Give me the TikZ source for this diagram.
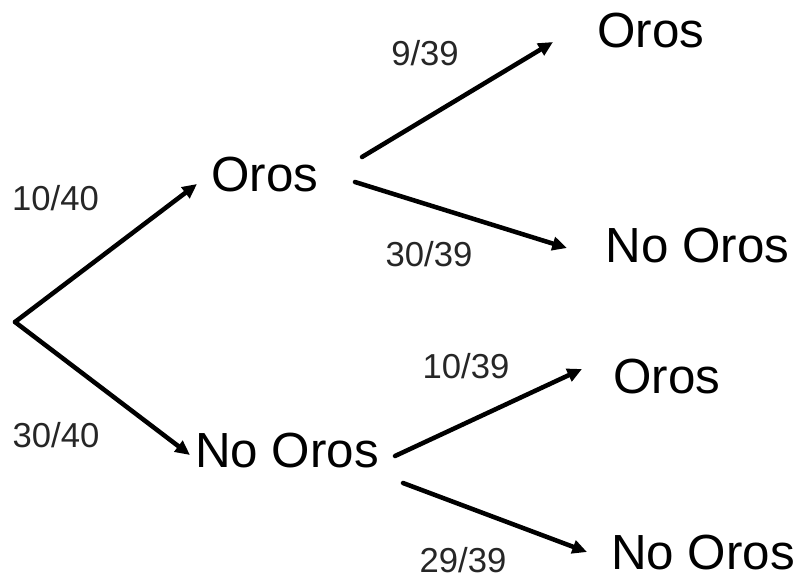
\documentclass[tikz,border=0pt]{standalone}
\usepackage{fontspec}
\setmainfont{Liberation Sans}
\usetikzlibrary{arrows.meta}
\begin{document}
\begin{tikzpicture}[x=0.75pt,y=-0.75pt,
  big/.style={anchor=base,inner sep=0pt,font=\fontsize{37pt}{39pt}\selectfont},
  prob/.style={anchor=base,inner sep=0pt,font=\fontsize{26pt}{28pt}\selectfont,text=black!85},
  branch/.style={line width=3.4pt,line cap=round,-{Triangle[length=11pt,width=10pt]}}]
\useasboundingbox (0,0) rectangle (795,579);
\coordinate (root) at (15,322);
\node[big] (om) at (265,191) {Oros};
\node[big] (nm) at (287,467) {No Oros};
\node[big] (o1) at (651,47) {Oros};
\node[big] (n1) at (697.5,262) {No Oros};
\node[big] (o2) at (667,393) {Oros};
\node[big] (n2) at (703,569) {No Oros};
\node[prob] (p1) at (55.5,210) {10/40};
\node[prob] (p2) at (56,447) {30/40};
\node[prob] (p3) at (425,65) {9/39};
\node[prob] (p4) at (429,266) {30/39};
\node[prob] (p5) at (466,378) {10/39};
\node[prob] (p6) at (463,572) {29/39};
\draw[branch] (root) -- ([shift={(-68,-7)}]om.base);
\draw[branch] (root) -- ([shift={(-97,-12)}]nm.base);
\draw[branch] ([shift={(97,-34)}]om.base) -- ([shift={(-98,-5)}]o1.base);
\draw[branch] ([shift={(90,-9)}]om.base) -- ([shift={(-130.5,-14)}]n1.base);
\draw[branch] ([shift={(108,-11)}]nm.base) -- ([shift={(-85,-24)}]o2.base);
\draw[branch] ([shift={(116,16)}]nm.base) -- ([shift={(-116,-17)}]n2.base);
\end{tikzpicture}
\end{document}
